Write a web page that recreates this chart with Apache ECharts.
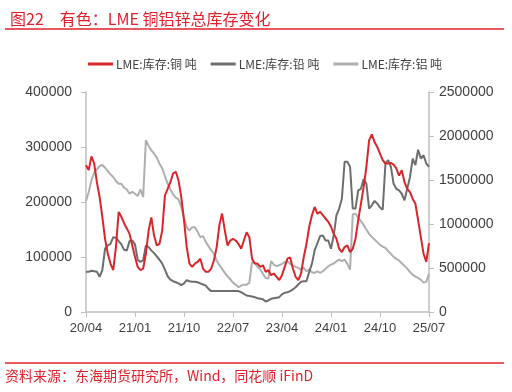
<!DOCTYPE html>
<html><head><meta charset="utf-8">
<script src="https://cdn.jsdelivr.net/npm/echarts@6/dist/echarts.min.js"></script>
<style>
html,body{margin:0;padding:0;background:#fff;}
#c{width:512px;height:392px;}
</style></head>
<body><div id="c"></div>
<script>
// half-month categories 2020-04 (first half) .. 2025-07 (first half)
const categories = [];
for (let y = 2020, m = 4; categories.length < 127; ) {
  const mm = (m < 10 ? '0' : '') + m;
  categories.push(String(y).slice(2) + '/' + mm + 'a');
  if (categories.length < 127) categories.push(String(y).slice(2) + '/' + mm + 'b');
  m++; if (m > 12) { m = 1; y++; }
}
const tickLabels = ['20/04','21/01','21/10','22/07','23/04','24/01','24/10','25/07'];
const legendNames = ['LME:库存:铜 吨','LME:库存:铅 吨','LME:库存:铝 吨'];

// 铜 (thousand tonnes, left axis)
const copperK = [267,258,283,270,236,209,173,133,106,88,76,118,182,173,161,152,142,121,100,82,
76,79,106,148,172,139,121,124,148,212,224,236,252,255,239,209,167,118,88,82,
88,91,97,79,73,73,79,94,118,158,179,148,121,130,133,130,124,115,130,145,
136,97,88,88,82,85,73,76,67,70,64,58,67,82,97,99,79,64,58,70,
100,124,155,176,191,179,182,176,170,164,155,142,133,115,109,118,121,109,115,133,
167,197,227,264,312,323,309,300,288,276,270,270,271,268,261,248,258,236,224,218,
206,197,167,136,106,91,125];
// 铅 (thousand tonnes, left axis)
const leadK = [73,73,75,74,73,64,76,115,121,124,136,135,129,123,113,112,129,130,123,95,
91,94,121,118,112,107,101,95,88,77,65,59,56,54,52,49,52,58,56,55,
55,54,52,50,48,42,38,38,38,38,38,38,38,38,38,38,38,36,33,30,
29,28,27,25,24,23,19,21,24,25,26,27,32,35,36,38,41,45,50,55,
56,56,73,88,112,125,138,139,130,130,115,139,176,188,206,273,273,264,188,188,
221,224,242,233,188,194,202,197,190,186,270,276,264,233,224,221,215,203,224,245,
279,267,295,279,285,270,264];
// 铝 (thousand tonnes, right axis)
const aluminiumK = [1261,1363,1496,1583,1621,1659,1671,1640,1602,1564,1534,1488,1458,1458,1412,1393,1344,1367,1344,1318,
1393,1306,1952,1887,1838,1800,1754,1686,1633,1545,1458,1393,1337,1299,1280,1192,1071,964,926,964,
964,911,851,862,797,748,699,661,585,532,490,444,406,372,334,311,281,300,311,311,
330,570,558,513,482,433,387,380,577,539,520,532,547,566,577,547,528,513,501,482,
501,463,482,452,444,463,444,463,490,520,539,551,577,596,577,596,547,482,1109,1116,
1071,1033,987,938,888,854,824,794,763,744,729,691,661,627,604,585,554,524,494,456,
425,402,387,365,334,342,433];

const toT = a => a.map(v => v * 1000);
const chart = echarts.init(document.getElementById('c'), null, {renderer: 'canvas'});
const axisCol = '#bfbfbf';
const labCol = '#404040';
const font = 'Liberation Sans Narrow, Liberation Sans, Noto Sans, sans-serif';
chart.setOption({
  animation: false,
  backgroundColor: '#fff',
  title: {
    text: '图22　有色：LME 铜铝锌总库存变化',
    left: 5, top: 6,
    textStyle: {color: '#e0202a', fontSize: 16, fontWeight: 'normal', fontFamily: 'Noto Sans CJK SC'}
  },
  graphic: [
    {type: 'line', shape: {x1: 5, y1: 29, x2: 504, y2: 29}, style: {stroke: '#e0202a', lineWidth: 1.5}},
    {type: 'line', shape: {x1: 5, y1: 363, x2: 504, y2: 363}, style: {stroke: '#e0202a', lineWidth: 1.5}},
    {type: 'text', left: 5, top: 369, style: {text: '资料来源：东海期货研究所，Wind，同花顺 iFinD', fill: '#e0202a', font: '14px "Noto Sans CJK SC"'}}
  ],
  legend: {
    top: 53, left: 83,
    itemWidth: 25, itemHeight: 3, itemGap: 14,
    icon: 'rect',
    textStyle: {color: labCol, fontSize: 12, fontFamily: 'Noto Sans CJK SC', padding: [0,0,0,-2]},
    data: legendNames
  },
  grid: {left: 86, right: 83, top: 92, bottom: 80, containLabel: false},
  xAxis: {
    type: 'category', data: categories, boundaryGap: false,
    axisLine: {lineStyle: {color: axisCol, width: 1.5}},
    axisTick: {show: true, interval: 17, length: 5, lineStyle: {color: axisCol}},
    axisLabel: {interval: 17, color: labCol, fontSize: 13, fontFamily: font, margin: 10,
      formatter: v => v.slice(0, 5)}
  },
  yAxis: [
    {type: 'value', min: 0, max: 400000, interval: 100000,
      axisLine: {show: true, lineStyle: {color: axisCol, width: 1.5}},
      axisTick: {show: true, length: 5, lineStyle: {color: axisCol}},
      splitLine: {show: false},
      axisLabel: {color: labCol, fontSize: 14, fontFamily: font, margin: 14, formatter: v => String(v)}},
    {type: 'value', min: 0, max: 2500000, interval: 500000,
      axisLine: {show: true, lineStyle: {color: axisCol, width: 1.5}},
      axisTick: {show: true, length: 5, lineStyle: {color: axisCol}},
      splitLine: {show: false},
      axisLabel: {color: labCol, fontSize: 14, fontFamily: font, margin: 10, formatter: v => String(v)}}
  ],
  series: [
    {name: legendNames[0], type: 'line', yAxisIndex: 0, data: toT(copperK), showSymbol: false,
      lineStyle: {color: '#d9262b', width: 2}, itemStyle: {color: '#d9262b'}, z: 4},
    {name: legendNames[1], type: 'line', yAxisIndex: 0, data: toT(leadK), showSymbol: false,
      lineStyle: {color: '#6e6e6e', width: 2}, itemStyle: {color: '#6e6e6e'}, z: 3},
    {name: legendNames[2], type: 'line', yAxisIndex: 1, data: toT(aluminiumK), showSymbol: false,
      lineStyle: {color: '#afafaf', width: 2}, itemStyle: {color: '#afafaf'}, z: 2}
  ]
});
</script></body></html>
